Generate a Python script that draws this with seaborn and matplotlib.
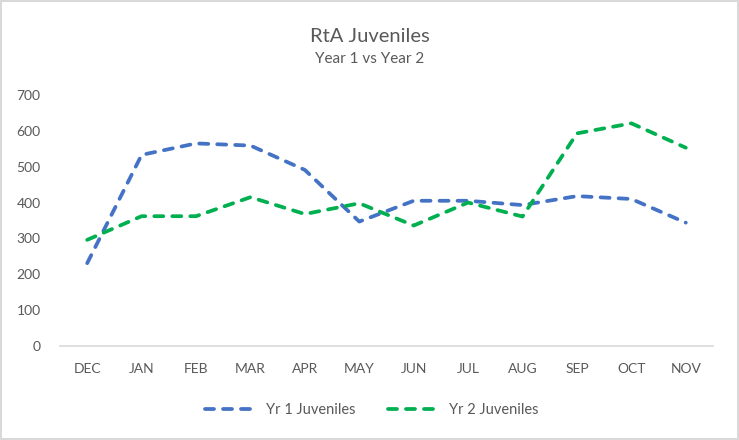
import matplotlib
matplotlib.use("Agg")
import matplotlib.pyplot as plt
import seaborn as sns
import pandas as pd

months = ["DEC", "JAN", "FEB", "MAR", "APR", "MAY", "JUN", "JUL", "AUG", "SEP", "OCT", "NOV"]
yr1 = [231, 533, 565, 559, 491, 347, 405, 405, 393, 418, 410, 344]
yr2 = [296, 362, 362, 415, 368, 398, 336, 400, 361, 593, 621, 553]
series_names = ["Yr 1 Juveniles", "Yr 2 Juveniles"]
y_ticks = [0, 100, 200, 300, 400, 500, 600, 700]

df = pd.DataFrame({
    "month": months * 2,
    "value": yr1 + yr2,
    "series": [series_names[0]] * len(months) + [series_names[1]] * len(months),
})
df["month"] = pd.Categorical(df["month"], categories=months, ordered=True)

sns.set_theme(style="white")
plt.rcParams["font.family"] = ["Lato", "DejaVu Sans"]

fig = plt.figure(figsize=(7.39, 4.40), dpi=100)
fig.patch.set_facecolor("white")
fig.patch.set_edgecolor("#D9D9D9")
fig.patch.set_linewidth(1.5)
ax = fig.add_axes([60 / 739, (440 - 346) / 440, (713 - 60) / 739, (346 - 95) / 440])

palette = {series_names[0]: "#4472C4", series_names[1]: "#00B050"}
sns.lineplot(data=df, x="month", y="value", hue="series", palette=palette,
             linewidth=2.7, ax=ax, legend=True, sort=False)
DASH = (2.4, 2.4)
for line in ax.get_lines():
    line.set_dashes(DASH)
    line.set_dash_capstyle("round")

ax.set_xlim(-0.5, len(months) - 0.5)
ax.set_ylim(0, 700)
ax.set_yticks(y_ticks)
ax.set_yticklabels([str(t) for t in y_ticks])
ax.set_xticks(range(len(months)))
ax.set_xticklabels(months)
ax.set_xlabel("")
ax.set_ylabel("")
ax.tick_params(axis="both", length=0, labelsize=10, colors="#595959")
ax.tick_params(axis="y", pad=14)
ax.tick_params(axis="x", pad=12)
for s in ["top", "right", "left"]:
    ax.spines[s].set_visible(False)
ax.spines["bottom"].set_color("#D9D9D9")
ax.spines["bottom"].set_linewidth(1.2)
ax.grid(False)

leg = ax.legend(loc="center", bbox_to_anchor=(0.477, -0.255), ncol=2, frameon=False,
                fontsize=10.5, handlelength=3.6, columnspacing=2.2, handletextpad=0.6)
for t in leg.get_texts():
    t.set_color("#595959")
for h in leg.get_lines():
    h.set_dashes(DASH)
    h.set_dash_capstyle("round")
    h.set_linewidth(2.7)

fig.text(0.5, 1 - 37 / 440, "RtA Juveniles", ha="center", va="center", fontsize=14.5, color="#595959")
fig.text(0.5, 1 - 59 / 440, "Year 1 vs Year 2", ha="center", va="center", fontsize=11, color="#595959")

fig.savefig("out.png", dpi=100, facecolor=fig.get_facecolor(), edgecolor=fig.get_edgecolor())
